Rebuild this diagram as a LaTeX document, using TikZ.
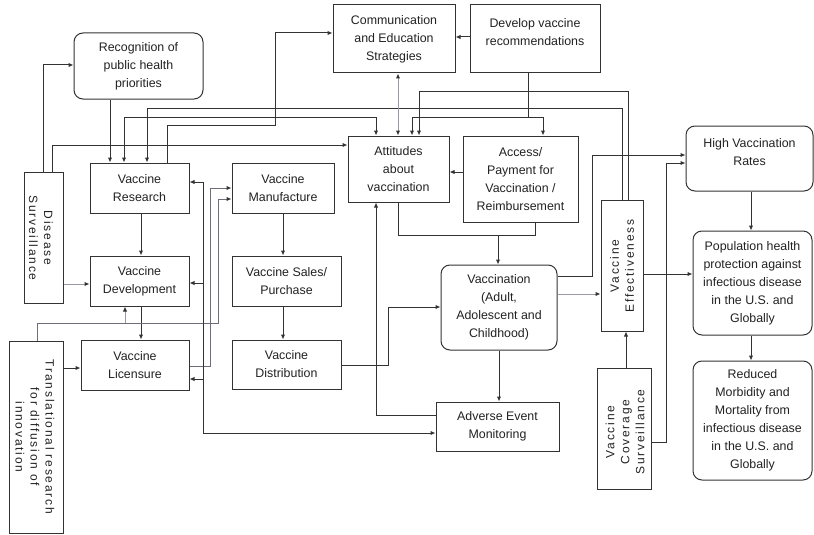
\documentclass[tikz,border=0pt]{standalone}
\usepackage{fontspec}
\setmainfont{Liberation Sans}
\newfontfamily\vfont[LetterSpace=15]{Liberation Sans}
\usetikzlibrary{arrows.meta}
\definecolor{ln}{HTML}{333333}
\definecolor{lg}{HTML}{9A9AA6}
\definecolor{mg}{HTML}{6E6E7A}
\definecolor{tx}{HTML}{222222}
\begin{document}
\begin{tikzpicture}[x=1pt,y=-1pt,
  box/.style={draw=ln, line width=1pt, inner sep=0pt, align=center, text=tx,
    font=\fontsize{12.4}{18}\selectfont},
  rbox/.style={box, rounded corners=9pt},
  txt/.style={inner sep=0pt, align=center, text=tx, font=\fontsize{12.4}{18}\selectfont},
  vtxt/.style={inner sep=0pt, align=center, text=tx, font=\vfont\fontsize{12}{15}\selectfont},
  con/.style={draw=ln, line width=1pt},
  arr/.style={con, -{Latex[length=5pt,width=4.5pt,color=ln]}},
  arrb/.style={con, {Latex[length=5pt,width=4.5pt,color=ln]}-{Latex[length=5pt,width=4.5pt,color=ln]}}]
\useasboundingbox (0,0) rectangle (814,535);
\fill[white] (0,0) rectangle (814,535);

% boxes
\node[rbox, minimum width=129, minimum height=66] (rec) at (138.5,66) {Recognition of\\public health\\priorities};
\node[box, minimum width=122, minimum height=68] (comm) at (394,39) {Communication\\and Education\\Strategies};
\node[box, minimum width=130, minimum height=68] (dev) at (535,39) {};
\node[txt] (devt) at (535,32) {Develop vaccine\\recommendations};
\node[box, minimum width=39, minimum height=131] (dis) at (43.5,237.5) {};
\node[vtxt, rotate=-90] (dist) at (41,238) {Disease\\Surveillance};
\node[box, minimum width=99, minimum height=50] (res) at (139.5,188) {Vaccine\\Research};
\node[box, minimum width=102, minimum height=50] (man) at (283,188) {Vaccine\\Manufacture};
\node[box, minimum width=101, minimum height=66] (att) at (398.5,169) {Attitudes\\about\\vaccination};
\node[box, minimum width=115, minimum height=86] (acc) at (520.5,179) {Access/\\Payment for\\Vaccination /\\Reimbursement};
\node[rbox, minimum width=127, minimum height=65] (hvr) at (749.5,158.5) {};
\node[txt] (hvrt) at (749.5,152) {High Vaccination\\Rates};
\node[box, minimum width=42, minimum height=131] (ve) at (622,265.5) {};
\node[vtxt, rotate=90] (vet) at (622,266) {Vaccine\\Effectiveness};
\node[rbox, minimum width=119, minimum height=104] (pop) at (752.5,283) {Population health\\protection against\\infectious disease\\in the U.S. and\\Globally};
\node[rbox, minimum width=119, minimum height=119] (red) at (752.5,420.5) {Reduced\\Morbidity and\\Mortality from\\infectious disease\\in the U.S. and\\Globally};
\node[box, minimum width=54, minimum height=121] (vcs) at (624,428.5) {};
\node[vtxt, rotate=90] (vcst) at (625,432) {Vaccine\\Coverage\\Surveillance};
\node[box, minimum width=99, minimum height=50] (devl) at (139.5,281) {Vaccine\\Development};
\node[box, minimum width=109, minimum height=50] (sal) at (286.5,281) {Vaccine Sales/\\Purchase};
\node[box, minimum width=108, minimum height=50] (lic) at (135,365) {Vaccine\\Licensure};
\node[box, minimum width=109, minimum height=49] (dst) at (286.5,364.5) {Vaccine\\Distribution};
\node[box, minimum width=54, minimum height=192] (tra) at (36,437) {};
\node[vtxt, rotate=-90] (trat) at (35,437) {Translational research\\for diffusion of\\innovation};
\node[rbox, minimum width=116, minimum height=85] (vac) at (499,307.5) {Vaccination\\(Adult,\\Adolescent and\\Childhood)};
\node[box, minimum width=123, minimum height=49] (adv) at (497.5,426.5) {Adverse Event\\Monitoring};

% connectors
\draw[arr] (43,0 |- dis.north) |- (rec.west |- 0,65);
\draw[arr] (52,0 |- dis.north) |- (att.west |- 0,145);
\draw[arr, draw=lg] (dis.east |- 0,284) -- (devl.west |- 0,284);
\draw[arr] (110,0 |- rec.south) -- (110,0 |- res.north);
\draw[arr] (167,0 |- res.north) |- (275,125) |- (comm.west |- 0,33);
\draw[arrb] (124,0 |- res.north) |- (376,117) -- (376,0 |- att.north);
\draw[arr] (622,0 |- ve.north) |- (147,108) -- (147,0 |- res.north);
\draw[arr] (628,0 |- ve.north) |- (419,91) -- (419,0 |- att.north);
\draw[con] (528,0 |- dev.south) -- (528,117);
\draw[arr] (528,117) -| (412,0 |- att.north);
\draw[arr] (528,117) -| (543,0 |- acc.north);
\draw[arrb, draw=lg] (398,0 |- comm.south) -- (398,0 |- att.north);
\draw[arr] (dev.west |- 0,37) -- (comm.east |- 0,37);
\draw[arr] (acc.west |- 0,172) -- (att.east |- 0,172);
\draw[con] (398,0 |- att.south) |- (535,235) -- (535,0 |- acc.south);
\draw[arr] (498,235) -- (498,0 |- vac.north);
\draw[arr] (adv.west |- 0,415) -| (376,0 |- att.south);
\draw[arr] (dst.east |- 0,365) -| (388,307) -- (vac.west |- 0,307);
\draw[arr] (499,0 |- vac.south) -- (499,0 |- adv.north);
\draw[arr, draw=lg] (vac.east |- 0,294) -- (ve.west |- 0,294);
\draw[arr] (vac.east |- 0,276) -| (592,155) -- (hvr.west |- 0,155);
\draw[arr] (vcs.east |- 0,442) -| (666,163) -- (hvr.west |- 0,163);
\draw[arr] (626,0 |- vcs.north) -- (626,0 |- ve.south);
\draw[arr] (ve.east |- 0,274) -- (pop.west |- 0,274);
\draw[arr] (751,0 |- hvr.south) -- (751,0 |- pop.north);
\draw[arr] (751,0 |- pop.south) -- (751,0 |- red.north);
\draw[arr] (141,0 |- res.south) -- (141,0 |- devl.north);
\draw[arr] (141,0 |- devl.south) -- (141,0 |- lic.north);
\draw[arr, draw=mg] (37,0 |- tra.north) |- (218,323) |- (man.west |- 0,199);
\draw[arr, draw=lg] (125,323) -- (125,0 |- devl.south);
\draw[arr, draw=mg] (lic.east |- 0,366) -| (210,188) -- (man.west |- 0,188);
\draw[arr] (203,182) |- (adv.west |- 0,433);
\draw[arr] (203,182) -- (res.east |- 0,182);
\draw[arr] (203,283) -- (devl.east |- 0,283);
\draw[arr] (203,379) -- (lic.east |- 0,379);
\draw[arr] (283,0 |- man.south) -- (283,0 |- sal.north);
\draw[arr] (283,0 |- sal.south) -- (283,0 |- dst.north);
\draw[arr] (tra.east |- 0,368) -- (lic.west |- 0,368);
\end{tikzpicture}
\end{document}
